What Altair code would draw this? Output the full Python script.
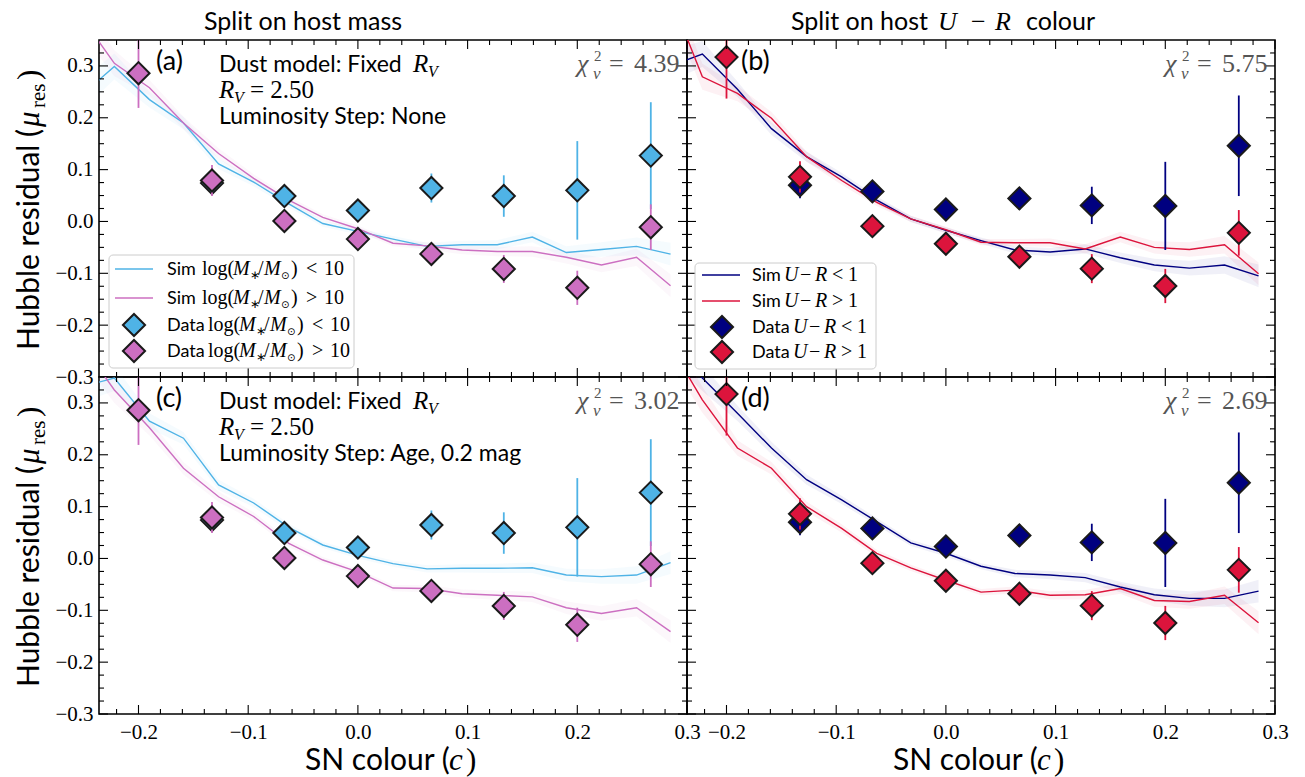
import altair as alt
import pandas as pd

# ---------------- data ----------------
X_SIM = [-0.254, -0.222, -0.190, -0.159, -0.127, -0.095, -0.063, -0.032, 0.0,
         0.032, 0.063, 0.095, 0.127, 0.159, 0.190, 0.222, 0.254, 0.285]
BAND_HW = [0.030, 0.025, 0.015, 0.012, 0.010, 0.008, 0.007, 0.006, 0.006,
           0.006, 0.007, 0.008, 0.009, 0.010, 0.012, 0.014, 0.017, 0.022]

SIM_A_LOW = [0.24, 0.299, 0.235, 0.19, 0.111, 0.076, 0.034, -0.004, -0.019,
             -0.034, -0.048, -0.045, -0.045, -0.030, -0.060, -0.054, -0.048, -0.063]
SIM_A_HIGH = [0.40, 0.305, 0.258, 0.19, 0.131, 0.083, 0.041, 0.008, -0.014,
              -0.042, -0.047, -0.055, -0.058, -0.058, -0.069, -0.084, -0.069, -0.124]
SIM_B_LOW = [0.298, 0.323, 0.255, 0.179, 0.125, 0.086, 0.041, 0.005, -0.017,
             -0.037, -0.055, -0.059, -0.053, -0.070, -0.084, -0.090, -0.084, -0.105]
SIM_B_HIGH = [0.45, 0.279, 0.247, 0.199, 0.125, 0.079, 0.037, 0.005, -0.016,
              -0.040, -0.041, -0.041, -0.053, -0.030, -0.050, -0.054, -0.045, -0.101]
SIM_C_LOW = [0.33, 0.348, 0.265, 0.232, 0.142, 0.107, 0.060, 0.026, 0.006,
             -0.010, -0.020, -0.019, -0.019, -0.018, -0.032, -0.035, -0.032, -0.008]
SIM_C_HIGH = [0.42, 0.325, 0.252, 0.174, 0.119, 0.081, 0.029, -0.003, -0.026,
              -0.057, -0.058, -0.068, -0.071, -0.074, -0.095, -0.106, -0.095, -0.141]
SIM_D_LOW = [0.42, 0.348, 0.280, 0.213, 0.152, 0.113, 0.071, 0.030, 0.010,
             -0.015, -0.029, -0.032, -0.037, -0.055, -0.070, -0.077, -0.077, -0.063]
SIM_D_HIGH = [0.42, 0.306, 0.213, 0.174, 0.100, 0.058, 0.010, -0.018, -0.042,
              -0.065, -0.061, -0.071, -0.070, -0.058, -0.081, -0.083, -0.071, -0.124]

X_DATA = [-0.2, -0.133, -0.067, 0.0, 0.067, 0.133, 0.2, 0.267]
MASS_LOW = [None, 0.074, 0.049, 0.021, 0.0645, 0.049, 0.060, 0.127]
MASS_LOW_ERR = [None, 0.020, 0.010, 0.010, 0.028, 0.040, 0.095, 0.103]
MASS_HIGH = [0.286, 0.079, 0.001, -0.034, -0.0626, -0.0916, -0.128, -0.011]
MASS_HIGH_ERR = [0.067, 0.030, 0.010, 0.010, 0.012, 0.027, 0.033, 0.044]
UR_LOW = [None, 0.070, 0.058, 0.023, 0.0445, 0.031, 0.030, 0.146]
UR_LOW_ERR = [None, 0.025, 0.010, 0.010, 0.022, 0.036, 0.085, 0.097]
UR_HIGH = [0.317, 0.086, -0.009, -0.043, -0.068, -0.091, -0.1245, -0.022]
UR_HIGH_ERR = [0.080, 0.030, 0.010, 0.010, 0.012, 0.028, 0.033, 0.044]

CHI2 = {"a": "4.39", "b": "5.75", "c": "3.02", "d": "2.69"}
LUM_STEP = {"a": "Luminosity Step: None", "c": "Luminosity Step: Age, 0.2 mag"}

X_MAJOR = [-0.2, -0.1, 0.0, 0.1, 0.2, 0.3]
X_MINOR = [-0.22, -0.18, -0.16, -0.14, -0.12, -0.08, -0.06, -0.04, -0.02, 0.02,
           0.04, 0.06, 0.08, 0.12, 0.14, 0.16, 0.18, 0.22, 0.24, 0.26, 0.28]
Y_MAJOR = [-0.3, -0.2, -0.1, 0.0, 0.1, 0.2, 0.3]
Y_MINOR = [-0.275, -0.25, -0.225, -0.175, -0.15, -0.125, -0.075, -0.05, -0.025,
           0.025, 0.05, 0.075, 0.125, 0.15, 0.175, 0.225, 0.25, 0.275, 0.325]

C_LOWMASS = "#4fb3e6"
C_HIGHMASS = "#cc6fc1"
C_BLUE = "#000080"
C_RED = "#dc143c"

# ---------------- style ----------------
W, H = 588, 337
SANS = "Lato"
SERIF = "Liberation Serif"
XS = alt.Scale(domain=[-0.236, 0.3], nice=False, zero=False)
YS = alt.Scale(domain=[-0.3, 0.35], nice=False, zero=False)
ONE = pd.DataFrame({"k": [0]})
DSIZE = 490


def T(text, x, y, size, font=SANS, italic=False, color="black", align="left", angle=None):
    kw = dict(text=text, fontSize=size, font=font, align=align,
              baseline="alphabetic", color=color)
    if italic:
        kw["fontStyle"] = "italic"
    if angle is not None:
        kw["angle"] = angle
    return alt.Chart(ONE).mark_text(**kw).encode(x=alt.value(x), y=alt.value(y))


def diamond(col, x, y):
    return (alt.Chart(ONE).mark_point(shape="diamond", filled=True, fill=col,
                                      stroke="#1a1a1a", strokeWidth=2, size=DSIZE, opacity=1)
            .encode(x=alt.value(x), y=alt.value(y)))


def panel(key):
    left = key in ("a", "c")
    bottom = key in ("c", "d")
    xax = (alt.Axis(values=X_MAJOR, format=".1f", ticks=False, domain=False, grid=False,
                    labelFont=SERIF, labelFontSize=21, labelPadding=7, labelFlush=False,
                    labelOverlap=False, labelColor="black", title=None)
           if bottom else None)
    yax = (alt.Axis(values=Y_MAJOR, format=".1f", ticks=False, domain=False, grid=False,
                    labelFont=SERIF, labelFontSize=21, labelPadding=6, labelOverlap=False,
                    labelColor="black", title=None)
           if left else None)

    def X(f):
        return alt.X(f, type="quantitative", scale=XS, axis=xax)

    def Y(f):
        return alt.Y(f, type="quantitative", scale=YS, axis=yax)

    sims = {"a": [(SIM_A_LOW, C_LOWMASS), (SIM_A_HIGH, C_HIGHMASS)],
            "b": [(SIM_B_LOW, C_BLUE), (SIM_B_HIGH, C_RED)],
            "c": [(SIM_C_LOW, C_LOWMASS), (SIM_C_HIGH, C_HIGHMASS)],
            "d": [(SIM_D_LOW, C_BLUE), (SIM_D_HIGH, C_RED)]}[key]
    mass = key in ("a", "c")
    datas = ([(MASS_LOW, MASS_LOW_ERR, C_LOWMASS), (MASS_HIGH, MASS_HIGH_ERR, C_HIGHMASS)]
             if mass else
             [(UR_LOW, UR_LOW_ERR, C_BLUE), (UR_HIGH, UR_HIGH_ERR, C_RED)])

    layers = []
    for vals, col in sims:
        df = pd.DataFrame({"x": X_SIM, "y": vals,
                           "lo": [v - h for v, h in zip(vals, BAND_HW)],
                           "hi": [v + h for v, h in zip(vals, BAND_HW)]})
        layers.append(alt.Chart(df).mark_area(clip=True, color=col, opacity=0.06)
                      .encode(x=X("x"), y=Y("lo"), y2="hi"))
    for vals, col in sims:
        df = pd.DataFrame({"x": X_SIM, "y": vals})
        layers.append(alt.Chart(df).mark_line(clip=True, color=col, strokeWidth=1.4)
                      .encode(x=X("x"), y=Y("y")))
    for vals, errs, col in datas:
        rows = [(x, v, v - e, v + e) for x, v, e in zip(X_DATA, vals, errs) if v is not None]
        df = pd.DataFrame(rows, columns=["x", "y", "lo", "hi"])
        layers.append(alt.Chart(df).mark_rule(clip=True, color=col, strokeWidth=1.8)
                      .encode(x=X("x"), y=Y("lo"), y2="hi"))
        layers.append(alt.Chart(df).mark_point(shape="diamond", filled=True, fill=col,
                                               stroke="#1a1a1a", strokeWidth=2, size=DSIZE,
                                               opacity=1)
                      .encode(x=X("x"), y=Y("y")))

    # inward ticks on all four sides
    for vals, ln in ((X_MAJOR, 9), (X_MINOR, 5)):
        df = pd.DataFrame({"v": vals})
        layers.append(alt.Chart(df).mark_rule(color="black", strokeWidth=1.1)
                      .encode(x=X("v"), y=alt.value(H), y2=alt.value(H - ln)))
        layers.append(alt.Chart(df).mark_rule(color="black", strokeWidth=1.1)
                      .encode(x=X("v"), y=alt.value(0), y2=alt.value(ln)))
    for vals, ln in ((Y_MAJOR, 9), (Y_MINOR, 5)):
        df = pd.DataFrame({"v": vals})
        layers.append(alt.Chart(df).mark_rule(color="black", strokeWidth=1.1)
                      .encode(y=Y("v"), x=alt.value(0), x2=alt.value(ln)))
        layers.append(alt.Chart(df).mark_rule(color="black", strokeWidth=1.1)
                      .encode(y=Y("v"), x=alt.value(W), x2=alt.value(W - ln)))

    # panel letter and chi^2
    layers.append(T("(" + key + ")", 57 if left else 54, 30, 27))
    grey = "#555555"
    layers += [T("χ", 478, 32, 26, SERIF, True, grey),
               T("2", 495, 21, 15, SERIF, False, grey),
               T("ν", 494, 39, 17, SERIF, True, grey),
               T("=", 510, 32, 26, SERIF, False, grey),
               T(CHI2[key], 535, 32, 26, SERIF, False, grey)]

    if mass:
        layers += [T("Dust model: Fixed", 120, 32, 23),
                   T("R", 314, 32, 25, SERIF, True),
                   T("V", 329, 37, 16, SERIF, True),
                   T("R", 120, 58, 25, SERIF, True),
                   T("V", 135, 63, 16, SERIF, True),
                   T("= 2.50", 151, 58, 25, SERIF),
                   T(LUM_STEP[key], 120, 84, 23)]

    # y-axis title (left panels), rotated, reading upwards
    if left:
        yb = -60
        layers += [T("Hubble residual (", yb, 310, 30, angle=270),
                   T("μ", yb, 87, 31, SERIF, True, angle=270),
                   T("res", yb + 6, 68, 21, SERIF, angle=270),
                   T(")", yb, 40, 31, SERIF, angle=270)]
    # x-axis title (bottom panels)
    if bottom:
        layers += [T("SN colour (", 206, H + 56, 30),
                   T("c", 350, H + 56, 31, SERIF, True),
                   T(")", 367, H + 56, 31, SERIF)]

    # column titles
    if key == "a":
        layers.append(T("Split on host mass", 105, -10, 25))
    if key == "b":
        layers += [T("Split on host", 104, -10, 25),
                   T("U", 251, -10, 26, SERIF, True),
                   T("−", 284, -10, 26, SERIF),
                   T("R", 308, -10, 26, SERIF, True),
                   T("colour", 339, -10, 25)]

    # legends
    if key == "a":
        layers.append(alt.Chart(ONE).mark_rect(fill="white", fillOpacity=0.85, stroke="#cccccc",
                                               strokeWidth=1, cornerRadius=4)
                      .encode(x=alt.value(10), x2=alt.value(255), y=alt.value(215), y2=alt.value(328)))
        rows = [(229, "line", C_LOWMASS, "Sim", "<"), (258, "line", C_HIGHMASS, "Sim", ">"),
                (285, "pt", C_LOWMASS, "Data", "<"), (311, "pt", C_HIGHMASS, "Data", ">")]
        for yc, kind, col, lab, op in rows:
            if kind == "line":
                layers.append(alt.Chart(ONE).mark_rule(color=col, strokeWidth=1.5)
                              .encode(x=alt.value(16), x2=alt.value(54), y=alt.value(yc)))
            else:
                layers.append(diamond(col, 35, yc))
            s = 0 if lab == "Sim" else 6
            b = yc + 6
            layers += [T(lab, 68, b, 18),
                       T("log(", 103 + s, b, 20, SERIF),
                       T("M", 134 + s, b, 20, SERIF, True),
                       T("∗", 151 + s, b + 4, 12, SERIF),
                       T("/", 159 + s, b, 20, SERIF),
                       T("M", 165 + s, b, 20, SERIF, True),
                       T("⊙", 182 + s, b + 4, 10, "DejaVu Sans"),
                       T(")", 192 + s, b, 20, SERIF),
                       T(op, 207 + s, b, 20, SERIF),
                       T("10", 225 + s, b, 20, SERIF)]
    if key == "b":
        layers.append(alt.Chart(ONE).mark_rect(fill="white", fillOpacity=0.85, stroke="#cccccc",
                                               strokeWidth=1, cornerRadius=4)
                      .encode(x=alt.value(8), x2=alt.value(189), y=alt.value(223), y2=alt.value(329)))
        rows = [(235, "line", C_BLUE, "Sim", "<"), (261, "line", C_RED, "Sim", ">"),
                (287, "pt", C_BLUE, "Data", "<"), (312, "pt", C_RED, "Data", ">")]
        for yc, kind, col, lab, op in rows:
            if kind == "line":
                layers.append(alt.Chart(ONE).mark_rule(color=col, strokeWidth=1.5)
                              .encode(x=alt.value(15), x2=alt.value(53), y=alt.value(yc)))
            else:
                layers.append(diamond(col, 35, yc))
            s = 0 if lab == "Sim" else 9
            b = yc + 6
            layers += [T(lab, 65, b, 18),
                       T("U", 97 + s, b, 20, SERIF, True),
                       T("−", 113 + s, b, 20, SERIF),
                       T("R", 128 + s, b, 20, SERIF, True),
                       T(op, 145 + s, b, 20, SERIF),
                       T("1", 161 + s, b, 20, SERIF)]

    return alt.layer(*layers).properties(width=W, height=H)


chart = (alt.concat(panel("a"), panel("b"), panel("c"), panel("d"),
                    columns=2, spacing=0, bounds="flush")
         .properties(padding={"left": 5, "top": 0, "right": 5, "bottom": 0},
                     background="white")
         .configure_view(stroke="black", strokeWidth=1.6))

chart.save("out.html", embed_options={"renderer": "svg", "actions": False})
